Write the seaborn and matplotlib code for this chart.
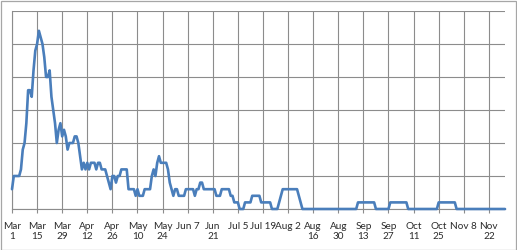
import matplotlib
matplotlib.use("Agg")
import matplotlib.pyplot as plt
from matplotlib.patches import Rectangle
import seaborn as sns
import pandas as pd

# ---- data ----
start_date = "2020-03-01"
end_date = "2020-12-01"
daily_values = [
    3, 5, 5, 5, 5, 6, 9, 10, 13, 18,
    18, 17, 21, 24, 25, 27, 26, 25, 23, 20,
    20, 21, 17, 15, 13, 10, 12, 13, 11, 12,
    11, 9, 10, 10, 10, 11, 11, 10, 8, 6,
    7, 6, 7, 6, 7, 7, 7, 6, 7, 7,
    6, 6, 6, 5, 4, 3, 5, 5, 4, 5,
    5, 6, 6, 6, 6, 3, 3, 3, 3, 2,
    3, 2, 2, 2, 3, 3, 3, 3, 5, 6,
    5, 7, 8, 7, 7, 7, 7, 6, 4, 3,
    2, 3, 3, 2, 2, 2, 2, 3, 3, 3,
    3, 3, 2, 3, 3, 4, 4, 3, 3, 3,
    3, 3, 3, 3, 2, 2, 2, 3, 3, 3,
    3, 3, 2, 2, 1, 1, 1, 0, 0, 0,
    1, 1, 1, 1, 2, 2, 2, 2, 2, 1,
    1, 1, 1, 1, 1, 0, 0, 0, 0, 1,
    2, 3, 3, 3, 3, 3, 3, 3, 3, 3,
    2, 1, 0, 0, 0, 0, 0, 0, 0, 0,
    0, 0, 0, 0, 0, 0, 0, 0, 0, 0,
    0, 0, 0, 0, 0, 0, 0, 0, 0, 0,
    0, 0, 0, 1, 1, 1, 1, 1, 1, 1,
    1, 1, 1, 0, 0, 0, 0, 0, 0, 0,
    0, 1, 1, 1, 1, 1, 1, 1, 1, 1,
    1, 0, 0, 0, 0, 0, 0, 0, 0, 0,
    0, 0, 0, 0, 0, 0, 0, 0, 1, 1,
    1, 1, 1, 1, 1, 1, 1, 1, 0, 0,
    0, 0, 0, 0, 0, 0, 0, 0, 0, 0,
    0, 0, 0, 0, 0, 0, 0, 0, 0, 0,
    0, 0, 0, 0, 0, 0,
]
tick_dates = ["2020-03-01", "2020-03-15", "2020-03-29", "2020-04-12", "2020-04-26",
              "2020-05-10", "2020-05-24", "2020-06-07", "2020-06-21", "2020-07-05",
              "2020-07-19", "2020-08-02", "2020-08-16", "2020-08-30", "2020-09-13",
              "2020-09-27", "2020-10-11", "2020-10-25", "2020-11-08", "2020-11-22"]
tick_labels = ["Mar\n1", "Mar\n15", "Mar\n29", "Apr\n12", "Apr\n26", "May\n10",
               "May\n24", "Jun 7", "Jun\n21", "Jul 5", "Jul 19", "Aug 2", "Aug\n16",
               "Aug\n30", "Sep\n13", "Sep\n27", "Oct\n11", "Oct\n25", "Nov 8", "Nov\n22"]
y_max = 30
y_step = 5

df = pd.DataFrame({
    "date": pd.date_range(start_date, periods=len(daily_values), freq="D"),
    "value": daily_values,
})

sns.set_theme(style="white")
plt.rcParams["font.family"] = ["Lato", "DejaVu Sans"]

fig = plt.figure(figsize=(5.17, 2.50), dpi=100)
fig.patch.set_facecolor("white")
ax = fig.add_axes([12 / 517, 41 / 250, 493 / 517, 198 / 250])

grid_c = "#8c8c8c"
sns.lineplot(data=df, x="date", y="value", ax=ax, color="#4a7ebb",
             linewidth=1.9, clip_on=False, zorder=3)

ax.set_xlim(pd.Timestamp(start_date), pd.Timestamp(end_date))
ax.set_ylim(0, y_max)
ax.set_yticks(range(0, y_max + 1, y_step))
ax.set_yticklabels([])
ax.set_xticks(pd.to_datetime(tick_dates))
ax.set_xticklabels(tick_labels, fontsize=7.2, color="#2b2b2b", linespacing=1.15)
ax.tick_params(axis="x", length=3, width=0.8, color=grid_c, pad=6.3, bottom=True)
ax.tick_params(axis="y", length=0)
ax.set_xlabel("")
ax.set_ylabel("")
ax.grid(True, color=grid_c, linewidth=0.8)
for s in ["top", "right"]:
    ax.spines[s].set_visible(False)
for s in ["left", "bottom"]:
    ax.spines[s].set_color(grid_c)
    ax.spines[s].set_linewidth(0.8)

fig.patches.append(Rectangle((0.5 / 517, 0.5 / 250), 515.5 / 517, 248.5 / 250,
                             transform=fig.transFigure, fill=False,
                             edgecolor="#a6a6a6", linewidth=0.9))

fig.savefig("out.png", dpi=100)
